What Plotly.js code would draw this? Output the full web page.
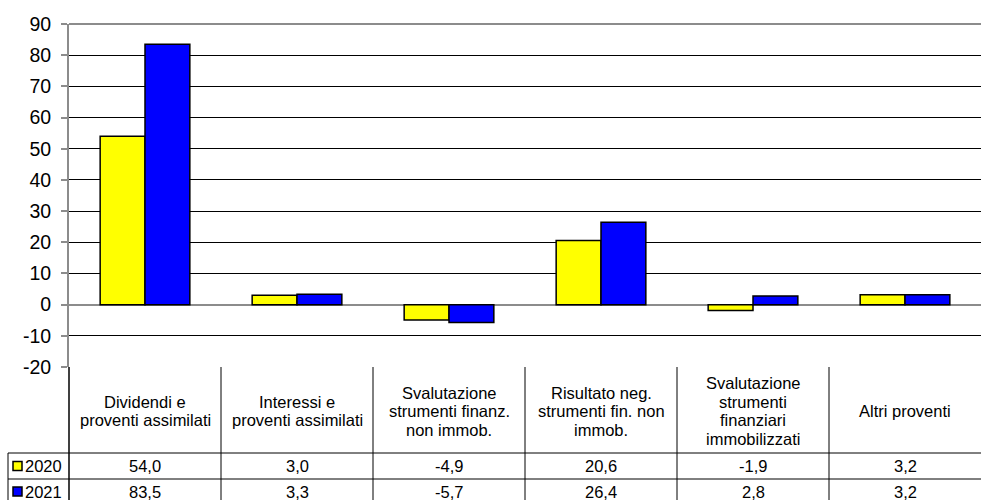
<!DOCTYPE html>
<html>
<head>
<meta charset="utf-8">
<script src="https://cdn.plot.ly/plotly-3.0.1.min.js"></script>
<style>html,body{margin:0;padding:0;background:#fff;}#chart{width:982px;height:500px;}</style>
</head>
<body>
<div id="chart"></div>
<script>
// ---- data ----
const categories = [
  "Dividendi e|proventi assimilati",
  "Interessi e|proventi assimilati",
  "Svalutazione|strumenti finanz.|non immob.",
  "Risultato neg.|strumenti fin. non|immob.",
  "Svalutazione|strumenti|finanziari|immobilizzati",
  "Altri proventi"
];
const seriesNames = ["2020", "2021"];
const values2020 = [54.0, 3.0, -4.9, 20.6, -1.9, 3.2];
const values2021 = [83.5, 3.3, -5.7, 26.4, 2.8, 3.2];
const yTicks = [-20, -10, 0, 10, 20, 30, 40, 50, 60, 70, 80, 90];

// ---- layout geometry (pixels) ----
const W = 982, H = 500;
const L = 69, R = 981, T = 24, B = 367;
const rowCatBottom = 453, row1Bottom = 479, tableBottom = 500, legendLeft = 8;
const py = p => (B - p) / (B - T);     // pixel y -> paper y
const px = p => (p - L) / (R - L);     // pixel x -> paper x
const FONT = "Liberation Sans, Arial, sans-serif";
const colors = ["#FFFF00", "#0000FF"];
const idx = categories.map((_, i) => i);
const fmt = v => v.toFixed(1).replace(".", ",");
const TABLE_FONT = 16.5;

const traces = [values2020, values2021].map((vals, s) => ({
  type: "bar",
  x: idx,
  y: vals,
  name: seriesNames[s],
  marker: { color: colors[s], line: { color: "#000", width: 1.5 } },
  hoverinfo: "skip"
}));

const shapes = [];
const annotations = [];
const line = (x0, y0, x1, y1, xref, color, width) => shapes.push({
  type: "line", xref: xref, yref: "paper", x0, y0, x1, y1,
  line: { color: color || "#000", width: width || 1 }, layer: "above"
});

// top gridline (grey)
line(0, 1, 1, 1, "paper", "#8c8c8c", 2);
// left axis continuing through the table
line(0, py(B), 0, py(tableBottom), "paper", "#000", 1.5);
// column separators
for (let i = 0; i < categories.length - 1; i++) {
  line(i + 0.5, py(B), i + 0.5, py(tableBottom), "x", "#000", 1);
}
// horizontal table lines
line(px(legendLeft), py(rowCatBottom), 1, py(rowCatBottom), "paper");
line(px(legendLeft), py(row1Bottom), 1, py(row1Bottom), "paper");
// legend column left border
line(px(legendLeft), py(rowCatBottom), px(legendLeft), py(tableBottom), "paper");

// category labels, line by line
const catCenter = (B + rowCatBottom) / 2 + 1;
const lineGap = 18.5;
categories.forEach((c, i) => {
  const parts = c.split("|");
  parts.forEach((t, k) => {
    annotations.push({
      xref: "x", yref: "paper", x: i,
      y: py(catCenter + (k - (parts.length - 1) / 2) * lineGap),
      text: t, showarrow: false, xanchor: "center", yanchor: "middle",
      borderpad: 0,
      font: { family: FONT, size: TABLE_FONT, color: "#000" }
    });
  });
});

// value rows + legend keys
const rowCenters = [(rowCatBottom + row1Bottom) / 2, (row1Bottom + tableBottom) / 2 + 2];
[values2020, values2021].forEach((vals, s) => {
  const yc = rowCenters[s];
  vals.forEach((v, i) => {
    annotations.push({
      xref: "x", yref: "paper", x: i, y: py(yc), text: fmt(v),
      showarrow: false, xanchor: "center", yanchor: "middle", borderpad: 0,
      font: { family: FONT, size: TABLE_FONT, color: "#000" }
    });
  });
  shapes.push({
    type: "rect", xref: "paper", yref: "paper",
    x0: px(13), x1: px(22), y0: py(yc - 4.5), y1: py(yc + 4.5),
    fillcolor: colors[s], line: { color: "#000", width: 1.5 }, layer: "above"
  });
  annotations.push({
    xref: "paper", yref: "paper", x: px(24), y: py(yc), text: seriesNames[s],
    showarrow: false, xanchor: "left", yanchor: "middle", borderpad: 0,
    font: { family: FONT, size: TABLE_FONT, color: "#000" }
  });
});

const layout = {
  width: W, height: H,
  margin: { l: L, r: W - R, t: T, b: H - B, pad: 0 },
  paper_bgcolor: "#fff", plot_bgcolor: "#fff",
  showlegend: false,
  barmode: "group", bargap: 0.41, bargroupgap: 0,
  xaxis: {
    range: [-0.5, categories.length - 0.5],
    showticklabels: false, showgrid: false, zeroline: false,
    showline: false, ticks: "", fixedrange: true
  },
  yaxis: {
    range: [-20, 90], tickvals: yTicks, ticktext: yTicks.map(String),
    showgrid: true, gridcolor: "#000", gridwidth: 1,
    zeroline: true, zerolinecolor: "#8c8c8c", zerolinewidth: 2,
    showline: true, linecolor: "#8c8c8c", linewidth: 2,
    ticks: "outside", ticklen: 6, tickcolor: "#8c8c8c", tickwidth: 2,
    ticklabelstandoff: 6,
    tickfont: { family: FONT, size: 19.5, color: "#000" },
    fixedrange: true
  },
  shapes: shapes,
  annotations: annotations
};

Plotly.newPlot("chart", traces, layout, { displayModeBar: false, staticPlot: true });
</script>
</body>
</html>
